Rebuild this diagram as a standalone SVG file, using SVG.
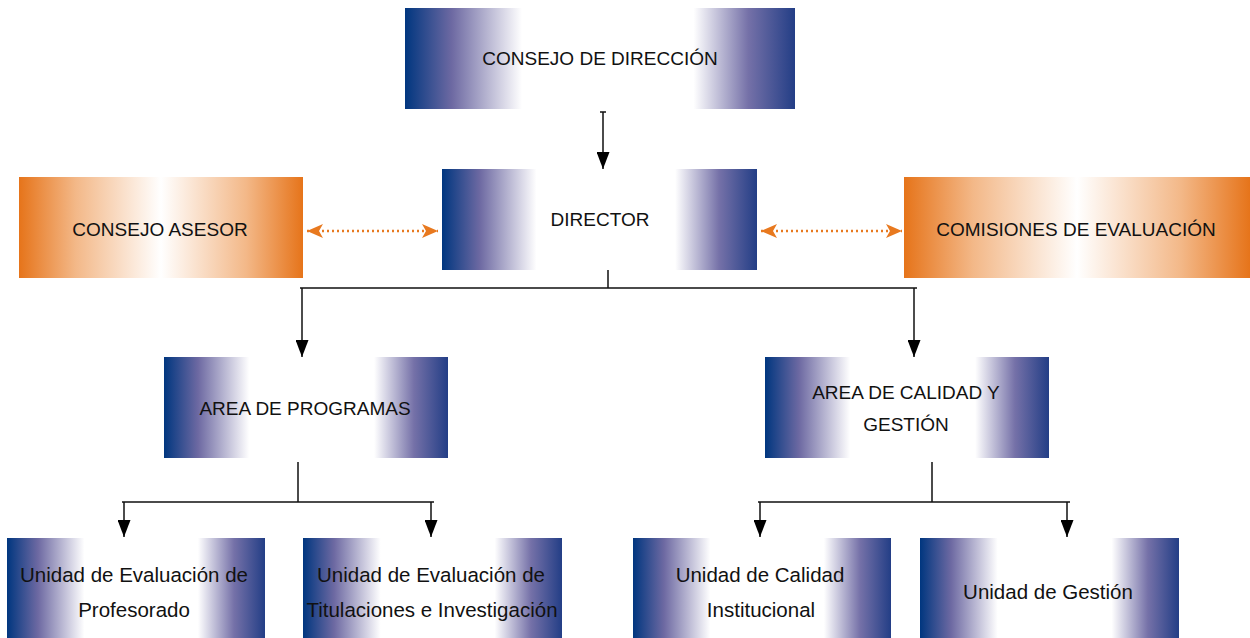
<svg xmlns="http://www.w3.org/2000/svg" width="1250" height="638" viewBox="0 0 1250 638">
<defs>
<linearGradient id="blue" x1="0" y1="0" x2="1" y2="0">
<stop offset="0" stop-color="#00367f"/>
<stop offset="0.12" stop-color="#6d69a2"/>
<stop offset="0.3" stop-color="#ffffff"/>
<stop offset="0.74" stop-color="#ffffff"/>
<stop offset="0.88" stop-color="#7571a8"/>
<stop offset="1" stop-color="#233e86"/>
</linearGradient>
<linearGradient id="orange" x1="0" y1="0" x2="1" y2="0">
<stop offset="0" stop-color="#e6741a"/>
<stop offset="0.2" stop-color="#f3b888"/>
<stop offset="0.5" stop-color="#ffffff"/>
<stop offset="0.8" stop-color="#f3b888"/>
<stop offset="1" stop-color="#e6741a"/>
</linearGradient>
<marker id="ah" viewBox="0 0 17 13" refX="17" refY="6.5" markerWidth="17" markerHeight="13" markerUnits="userSpaceOnUse" orient="auto">
<path d="M0,0 L17,6.5 L0,13 Z" fill="#000"/>
</marker>
<marker id="oh" viewBox="0 0 16 14" refX="16" refY="7" markerWidth="16" markerHeight="14" markerUnits="userSpaceOnUse" orient="auto-start-reverse">
<path d="M0,0 L16,7 L0,14 L4,7 Z" fill="#e8791f"/>
</marker>
<style>
.b{fill:url(#blue)}
.o{fill:url(#orange)}
.t{font-family:"Liberation Sans",Arial,sans-serif;font-size:19px;fill:#111;text-anchor:middle}
.l{font-size:20.5px}
.c{fill:none;stroke:#111;stroke-width:1.5}
.d{fill:none;stroke:#e8791f;stroke-width:2.5;stroke-dasharray:2 3}
</style>
</defs>
<g id="consejo-direccion"><rect class="b" x="405" y="8" width="390" height="101"/><text class="t" x="600" y="65">CONSEJO DE DIRECCIÓN</text></g>
<g id="director"><rect class="b" x="442" y="169" width="315" height="101"/><text class="t" x="600" y="226">DIRECTOR</text></g>
<g id="consejo-asesor"><rect class="o" x="19" y="177" width="284" height="101"/><text class="t" x="160" y="236">CONSEJO ASESOR</text></g>
<g id="comisiones"><rect class="o" x="904" y="177" width="346" height="101"/><text class="t" x="1076" y="236">COMISIONES DE EVALUACIÓN</text></g>
<g id="area-programas"><rect class="b" x="164" y="357" width="284" height="101"/><text class="t" x="305" y="415">AREA DE PROGRAMAS</text></g>
<g id="area-calidad"><rect class="b" x="765" y="357" width="284" height="101"/><text class="t" x="906" y="399">AREA DE CALIDAD Y</text><text class="t" x="906" y="431">GESTIÓN</text></g>
<g id="unidad-profesorado"><rect class="b" x="7" y="538" width="258" height="100"/><text class="t l" x="134" y="582">Unidad de Evaluación de</text><text class="t l" x="134" y="617">Profesorado</text></g>
<g id="unidad-titulaciones"><rect class="b" x="303" y="538" width="259" height="100"/><text class="t l" x="431" y="582">Unidad de Evaluación de</text><text class="t l" x="432" y="617">Titulaciones e Investigación</text></g>
<g id="unidad-calidad"><rect class="b" x="633" y="538" width="258" height="100"/><text class="t l" x="760" y="582">Unidad de Calidad</text><text class="t l" x="761" y="617">Institucional</text></g>
<g id="unidad-gestion"><rect class="b" x="920" y="538" width="259" height="100"/><text class="t l" x="1048" y="599">Unidad de Gestión</text></g>
<g id="connectors">
<path class="c" d="M600,112 H606 M603,112 V169" marker-end="url(#ah)"/>
<path class="d" d="M307,231 H438" marker-start="url(#oh)" marker-end="url(#oh)"/>
<path class="d" d="M761,231 H902" marker-start="url(#oh)" marker-end="url(#oh)"/>
<path class="c" d="M608,270 V288 M300,288 H917"/>
<path class="c" d="M302,288 V357" marker-end="url(#ah)"/>
<path class="c" d="M914,288 V357" marker-end="url(#ah)"/>
<path class="c" d="M298,462 V502 M122,502 H434"/>
<path class="c" d="M124,502 V537" marker-end="url(#ah)"/>
<path class="c" d="M431,502 V537" marker-end="url(#ah)"/>
<path class="c" d="M932,462 V502 M758,502 H1070"/>
<path class="c" d="M760,502 V537" marker-end="url(#ah)"/>
<path class="c" d="M1067,502 V537" marker-end="url(#ah)"/>
</g>
</svg>
